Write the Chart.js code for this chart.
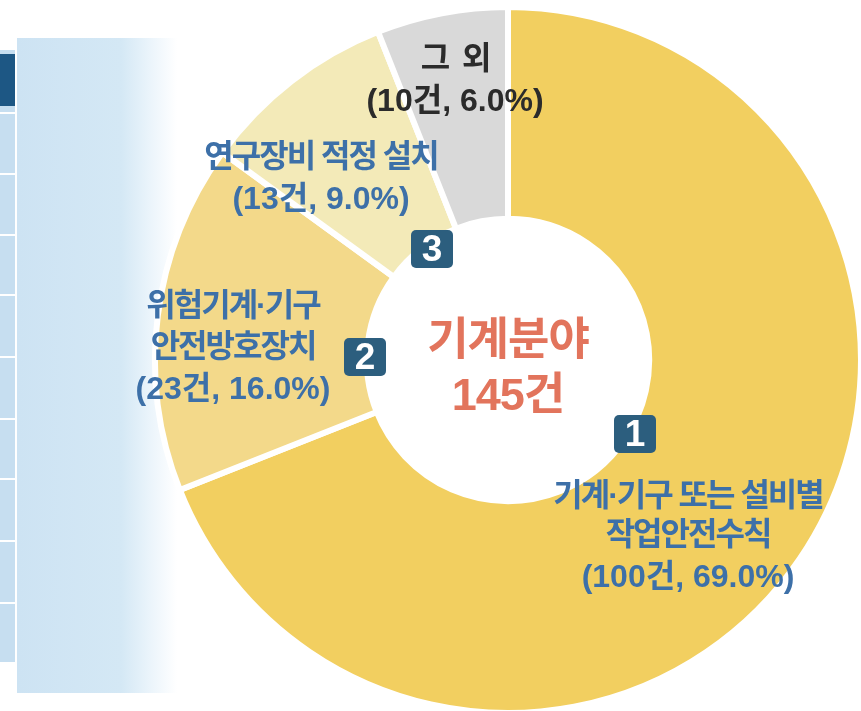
<!DOCTYPE html>
<html>
<head>
<meta charset="utf-8">
<script src="https://cdn.jsdelivr.net/npm/chart.js@4.4.0/dist/chart.umd.min.js"></script>
<style>
  html, body { margin: 0; padding: 0; width: 861px; height: 711px; overflow: hidden; background: #fff; }
  #panel { position: absolute; left: 17px; top: 38px; width: 160px; height: 655px;
    background: linear-gradient(to right, #cde3f3 0%, #d4e8f5 65%, rgba(225,239,249,0.6) 85%, rgba(255,255,255,0) 100%); }
  #col { position: absolute; left: 0; top: 50px; width: 15px; height: 612px; background: #c6def0; }
  #dark { position: absolute; left: 0; top: 54px; width: 15px; height: 52px; background: #1d5784; }
  .sep { position: absolute; left: 0; width: 15px; height: 2px; background: #fff; }
  #wrap { position: absolute; left: 0; top: 0; width: 870px; height: 716px; }
</style>
</head>
<body>
<div id="panel"></div>
<div id="col"></div>
<div id="dark"></div>
<div id="wrap"><canvas id="pie" width="870" height="716"></canvas></div>
<script>
  // data
  const categories = ['기계·기구 또는 설비별 작업안전수칙', '위험기계·기구 안전방호장치', '연구장비 적정 설치', '그 외'];
  const counts = [100, 23, 13, 10];
  const shares = [69.0, 16.0, 9.0, 6.0];
  const labelLines = [['기계·기구 또는 설비별', '작업안전수칙'], ['위험기계·기구', '안전방호장치'], ['연구장비 적정 설치'], ['그  외']];
  const centerTitle = '기계분야';
  const totalCount = 145;

  const colors = ['#f2cf60', '#f3d98a', '#f3eab8', '#d9d9d9'];
  const textColors = ['#3d70a8', '#3d70a8', '#3d70a8', '#2b2b2b'];

  // label placement relative to chart centre
  const labelPos = [
    {dx: 180, dy: [137, 176, 218]},
    {dx: -275, dy: [-53, -12, 30]},
    {dx: -187, dy: [-202, -160]},
    {dx: -53, dy: [-300, -258]}
  ];
  const badgePos = [[127, 74], [-143, -3], [-76, -111]];

  // left panel separators
  [112, 173, 234, 294, 356, 418, 478, 540, 602].forEach(y => {
    const d = document.createElement('div');
    d.className = 'sep';
    d.style.top = y + 'px';
    document.body.appendChild(d);
  });

  const hangulFont = 'bold 32px "Liberation Sans", "Noto Sans CJK KR"';
  const numFont = 'bold 32px "Liberation Sans", "Noto Sans CJK KR"';

  const labelPlugin = {
    id: 'labels',
    afterDraw(chart) {
      const ctx = chart.ctx;
      const arc = chart.getDatasetMeta(0).data[0];
      const cx = arc.x, cy = arc.y;
      ctx.save();
      ctx.textAlign = 'center';
      ctx.textBaseline = 'middle';

      for (let i = 0; i < categories.length; i++) {
        const lines = labelLines[i].concat(['(' + counts[i] + '건, ' + shares[i].toFixed(1) + '%)']);
        ctx.fillStyle = textColors[i];
        lines.forEach((t, k) => {
          const last = k === lines.length - 1;
          ctx.font = last ? numFont : hangulFont;
          ctx.letterSpacing = last ? '0px' : '-2px';
          ctx.fillText(t, cx + labelPos[i].dx, cy + labelPos[i].dy[k]);
        });
      }
      ctx.letterSpacing = '0px';

      // number badges
      badgePos.forEach((p, i) => {
        const bx = cx + p[0], by = cy + p[1];
        ctx.fillStyle = '#2c5e7e';
        ctx.beginPath();
        ctx.roundRect(bx - 21, by - 19, 42, 38, 5);
        ctx.fill();
        ctx.fillStyle = '#ffffff';
        ctx.font = 'bold 37px "Liberation Sans"';
        ctx.fillText(String(i + 1), bx, by + 2);
      });

      // centre text
      ctx.fillStyle = '#e2745c';
      ctx.font = 'bold 45px "Noto Sans CJK KR"';
      ctx.letterSpacing = '-1px';
      ctx.fillText(centerTitle, cx, cy - 22);
      ctx.font = 'bold 45px "Liberation Sans", "Noto Sans CJK KR"';
      ctx.fillText(totalCount + '건', cx, cy + 38);
      ctx.restore();
    }
  };

  const data = {
    labels: categories,
    datasets: [{
      data: shares,
      backgroundColor: colors,
      borderColor: '#ffffff',
      borderWidth: 6
    }]
  };

  const config = {
    type: 'doughnut',
    data: data,
    options: {
      responsive: false,
      animation: false,
      devicePixelRatio: 1,
      cutout: '40%',
      layout: { padding: { left: 152, top: 4, right: 6, bottom: 0 } },
      plugins: { legend: { display: false }, tooltip: { enabled: false } }
    },
    plugins: [labelPlugin]
  };

  const myChart = new Chart(document.getElementById('pie'), config);
</script>
</body>
</html>
